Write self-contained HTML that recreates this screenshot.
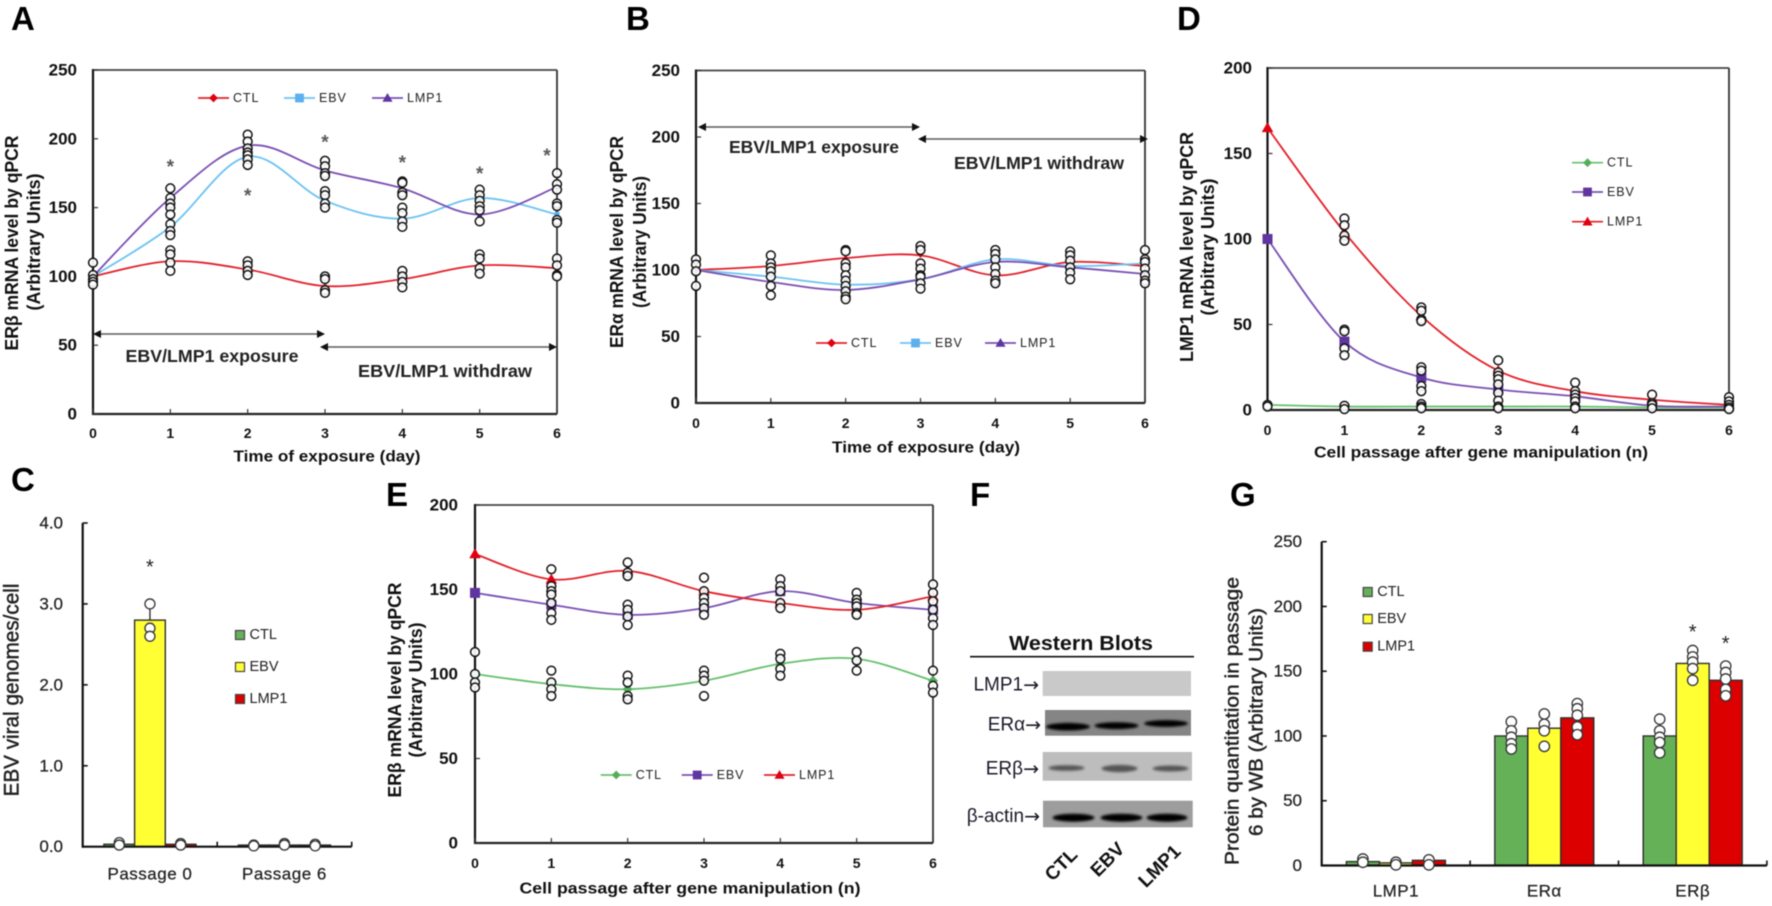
<!DOCTYPE html>
<html lang="en">
<head>
<meta charset="utf-8">
<title>ER mRNA and protein levels after EBV and LMP1 exposure</title>
<style>
html,body{margin:0;padding:0;background:#fff;}
body{width:1772px;height:906px;overflow:hidden;}
#figure{display:block;width:1772px;height:906px;filter:blur(0.5px);font-family:"Liberation Sans","DejaVu Sans",sans-serif;}
</style>
</head>
<body>
<svg id="figure" xmlns="http://www.w3.org/2000/svg" width="1772" height="906" viewBox="0 0 1772 906">
  <defs>
    <filter id="band-blur" x="-20%" y="-100%" width="140%" height="300%"><feGaussianBlur stdDeviation="1.4"/></filter>
  </defs>
  <rect width="1772" height="906" fill="#fff"/>

  <g font-size="33" font-weight="700" fill="#000">
    <text x="11" y="30">A</text>
    <text x="626" y="30">B</text>
    <text x="1177" y="30">D</text>
    <text x="11" y="491">C</text>
    <text x="386" y="506">E</text>
    <text x="970" y="506">F</text>
    <text x="1230" y="506">G</text>
  </g>

  <g>
    <text x="1081" y="650" text-anchor="middle" font-size="20" font-weight="700" textLength="144" lengthAdjust="spacingAndGlyphs" fill="#111">Western Blots</text>
    <line x1="970" y1="656.7" x2="1194" y2="656.7" stroke="#111" stroke-width="1.6"/>

    <rect x="1042.7" y="671" width="148.3" height="25" fill="#c9c9c9"/>

    <rect x="1045" y="710" width="146" height="25.7" fill="#858585"/>
    <g filter="url(#band-blur)" fill="#050505">
      <ellipse cx="1068" cy="726.7" rx="22" ry="3.8"/>
      <ellipse cx="1116.5" cy="725.7" rx="22" ry="3.4"/>
      <ellipse cx="1166" cy="723.5" rx="22" ry="3.4"/>
    </g>

    <rect x="1042.7" y="752" width="149.3" height="28.7" fill="#bdbdbd"/>
    <g filter="url(#band-blur)" fill="#555">
      <ellipse cx="1066.5" cy="768" rx="18" ry="2.8"/>
      <ellipse cx="1119.5" cy="768.5" rx="18" ry="3.6"/>
      <ellipse cx="1170.5" cy="768.5" rx="18" ry="3"/>
    </g>

    <rect x="1043" y="800.7" width="149.7" height="26.6" fill="#9d9d9d"/>
    <g filter="url(#band-blur)" fill="#050505">
      <ellipse cx="1073.5" cy="817.7" rx="21" ry="4"/>
      <ellipse cx="1121.5" cy="817.7" rx="21" ry="4"/>
      <ellipse cx="1167" cy="817.7" rx="20.5" ry="4"/>
    </g>

    <g font-size="19" fill="#1a1a2a" text-anchor="end" dominant-baseline="central">
      <text x="1039" y="685">LMP1<tspan font-family="'DejaVu Sans',sans-serif">→</tspan></text>
      <text x="1041" y="725">ERα<tspan font-family="'DejaVu Sans',sans-serif">→</tspan></text>
      <text x="1039" y="769">ERβ<tspan font-family="'DejaVu Sans',sans-serif">→</tspan></text>
      <text x="1040" y="816.7">β-actin<tspan font-family="'DejaVu Sans',sans-serif">→</tspan></text>
    </g>
    <g font-size="19" font-weight="700" fill="#111" text-anchor="middle" dominant-baseline="central">
      <text x="1061.7" y="865" transform="rotate(-45 1061.7 865)">CTL</text>
      <text x="1108" y="860" transform="rotate(-45 1108 860)">EBV</text>
      <text x="1160" y="866.7" transform="rotate(-45 1160 866.7)">LMP1</text>
    </g>
  </g>
</svg>

<script>
/* ---------- shared tick labels ---------- */
const dayTicks = [0, 1, 2, 3, 4, 5, 6];
const ticks250 = [0, 50, 100, 150, 200, 250];
const ticks200 = [0, 50, 100, 150, 200];
const ticksGenomes = [0, 1, 2, 3, 4];

/* ---------- panel A ---------- */
const aCtl  = [100, 111, 105, 93, 98, 108, 106];
const aEbv  = [100, 136, 187, 155, 142, 157, 145];
const aLmp1 = [100, 157, 195, 177, 164, 145, 165];
const aPoints = [
  [110, 101, 98, 96, 94],
  [164, 157, 153, 150, 145, 138, 133, 130, 119, 116, 110, 104],
  [203, 198, 193, 190, 188, 185, 181, 111, 108, 104, 101],
  [184, 180, 175, 173, 162, 159, 153, 150, 100, 98, 90, 88],
  [169, 168, 161, 159, 150, 146, 140, 136, 104, 100, 96, 92],
  [163, 159, 155, 151, 148, 140, 116, 113, 106, 102],
  [175, 167, 163, 153, 151, 141, 139, 113, 108, 101, 100]
];
const aStarDays = [1, 2, 3, 4, 5, 5.87];
const aStarValues = [182, 161, 200, 185, 177, 190];

/* ---------- panel B ---------- */
const bCtl  = [100, 103, 109, 111, 96, 106, 103];
const bEbv  = [100, 95, 89, 93, 108, 103, 105];
const bLmp1 = [100, 91, 85, 93, 106, 102, 97];
const bPoints = [
  [108, 104, 99, 88],
  [111, 105, 102, 99, 95, 88, 81],
  [115, 114, 105, 102, 96, 92, 88, 84, 80, 78],
  [118, 115, 105, 101, 96, 95, 90, 86],
  [115, 112, 108, 102, 97, 92, 90],
  [114, 111, 107, 102, 98, 93],
  [115, 108, 106, 101, 96, 92, 90]
];

/* ---------- panel D ---------- */
const dCtl  = [3, 2, 2, 2, 2, 1.5, 1.5];
const dEbv  = [100, 40, 19, 12, 8, 2.5, 2];
const dLmp1 = [165, 104, 55, 23, 11, 6, 3];
const dPoints = [
  [3, 2],
  [112, 108, 102, 99, 47, 46, 36, 32, 2.5, 0.5],
  [60, 58, 53, 52, 25, 23, 14, 11, 3.5, 2, 1],
  [29, 22, 20, 18, 15, 10, 5.5, 2, 1],
  [16, 11, 9, 7, 5, 2, 1],
  [9, 4, 3, 1],
  [7.5, 5, 3, 1.5, 0.5]
];

/* ---------- panel E ---------- */
const eCtl  = [100, 94, 91, 96, 106, 109, 96];
const eEbv  = [148, 141, 135, 139, 149, 142, 138];
const eLmp1 = [171, 156, 161, 149, 142, 138, 146];
const ePoints = [
  [113, 100, 95, 92],
  [162, 152, 149, 147, 142, 136, 132, 102, 95, 91, 87],
  [166, 160, 158, 141, 138, 134, 129, 99, 95, 87, 85],
  [157, 149, 145, 142, 139, 135, 102, 99, 96, 87],
  [156, 152, 149, 142, 139, 112, 109, 103, 99],
  [148, 144, 142, 140, 136, 135, 113, 108, 102],
  [153, 148, 143, 138, 133, 129, 102, 93, 89]
];

/* ---------- panel C ---------- */
const cCategories = ['Passage 0', 'Passage 6'];
const cCtl  = [0.03, 0.02];
const cEbv  = [2.8, 0.02];
const cLmp1 = [0.03, 0.02];
const cCtlPoints  = [[0.05, 0.02], [0.02, 0.01]];
const cEbvPoints  = [[3.0, 2.7, 2.6], [0.04, 0.02]];
const cLmp1Points = [[0.04, 0.02], [0.03, 0.01]];
const cStarValues = [[null, 3.5, null], [null, null, null]];

/* ---------- panel G ---------- */
const gCategories = ['LMP1', 'ERα', 'ERβ'];
const gCtl  = [3, 100, 100];
const gEbv  = [2, 106, 156];
const gLmp1 = [4, 114, 143];
const gCtlPoints  = [[5, 2.5], [111, 104, 99, 94, 90], [113, 104, 99, 95, 87]];
const gEbvPoints  = [[2.5, 0.5], [117, 109, 104, 92], [166, 161, 157, 152, 143]];
const gLmp1Points = [[4.4, 0.5], [125, 121, 116, 107, 101], [154, 149, 144, 136, 131]];
const gStarValues = [[null, null, null], [null, null, null], [null, 183, 174]];

/* ---------- palette ---------- */
const RED = '#e3202a', BLUE = '#6cc3f2', PURPLE = '#7a4fb3', GREEN = '#66c06c';
const MARK_BLUE = '#5cb0ee', MARK_PURPLE = '#5f35a0', MARK_GREEN = '#55ad5c', MARK_RED = '#e00010';
const BAR_GREEN = '#65b158', BAR_YELLOW = '#ffff33', BAR_RED = '#dc0000';

const root = document.getElementById('figure');
const SVGNS = 'http://www.w3.org/2000/svg';

function mk(tag, attrs, parent) {
  const node = document.createElementNS(SVGNS, tag);
  for (const key in attrs) node.setAttribute(key, attrs[key]);
  parent.appendChild(node);
  return node;
}

function txt(str, x, y, opt, parent) {
  const attrs = {
    x: x, y: y,
    'font-size': opt.size,
    'font-weight': opt.weight || 400,
    'text-anchor': opt.anchor || 'middle',
    'dominant-baseline': 'central',
    fill: opt.fill || '#111'
  };
  if (opt.len) { attrs.textLength = opt.len; attrs.lengthAdjust = 'spacingAndGlyphs'; }
  if (opt.rot) attrs.transform = 'rotate(' + opt.rot + ' ' + x + ' ' + y + ')';
  if (opt.ls) attrs['letter-spacing'] = opt.ls;
  if (opt.thick) { attrs.stroke = opt.fill || '#111'; attrs['stroke-width'] = opt.thick; }
  const node = mk('text', attrs, parent);
  node.textContent = str;
  return node;
}

function smoothPath(pts) {
  let d = 'M' + pts[0][0] + ' ' + pts[0][1];
  for (let i = 0; i < pts.length - 1; i++) {
    const p0 = pts[Math.max(0, i - 1)], p1 = pts[i], p2 = pts[i + 1], p3 = pts[Math.min(pts.length - 1, i + 2)];
    const c1x = p1[0] + (p2[0] - p0[0]) / 6, c1y = p1[1] + (p2[1] - p0[1]) / 6;
    const c2x = p2[0] - (p3[0] - p1[0]) / 6, c2y = p2[1] - (p3[1] - p1[1]) / 6;
    d += ' C' + c1x + ' ' + c1y + ' ' + c2x + ' ' + c2y + ' ' + p2[0] + ' ' + p2[1];
  }
  return d;
}

function drawMarker(shape, cx, cy, size, color, parent) {
  let node;
  if (shape === 'diamond') {
    node = mk('polygon', { points: [cx, cy - size, cx + size, cy, cx, cy + size, cx - size, cy].join(' '), fill: color }, parent);
  } else if (shape === 'square') {
    node = mk('rect', { x: cx - size, y: cy - size, width: size * 2, height: size * 2, fill: color }, parent);
  } else {
    node = mk('polygon', { points: [cx, cy - size * 1.15, cx + size * 1.15, cy + size * 0.85, cx - size * 1.15, cy + size * 0.85].join(' '), fill: color }, parent);
  }
  
  
  return node;
}

function drawArrow(x1, x2, y, parent) {
  const group = mk('g', {}, parent);
  
  
  mk('line', { x1: x1 + 4, y1: y, x2: x2 - 4, y2: y, stroke: '#5a5a5a', 'stroke-width': 1.6 }, group);
  mk('polygon', { points: [x2, y, x2 - 8, y - 4, x2 - 8, y + 4].join(' '), fill: '#111' }, group);
  mk('polygon', { points: [x1, y, x1 + 8, y - 4, x1 + 8, y + 4].join(' '), fill: '#111' }, group);
}

function drawLegendEntry(e, parent) {
  const group = mk('g', {}, parent);
  
  
  mk('line', { x1: e.x, y1: e.y, x2: e.x + 31, y2: e.y, stroke: e.color, 'stroke-width': 1.7 }, group);
  drawMarker(e.shape, e.x + 15.5, e.y, 4.4, e.mark, group);
  const label = txt(e.label, e.x + 35, e.y, { size: 12.5, anchor: 'start', ls: '0.9px', fill: '#222' }, group);
  
  
}

/* ---------- line chart ---------- */
function lineChart(cfg) {
  const panel = mk('g', {}, root);
  
  

  const yMax = cfg.yTicks[cfg.yTicks.length - 1];
  const scaleX = function (i) { return cfg.x0 + i / (cfg.xTicks.length - 1) * (cfg.x1 - cfg.x0); };
  const scaleY = function (v) { return cfg.bottom - v / yMax * (cfg.bottom - cfg.top); };

  const frameTop = mk('line', { x1: cfg.x0, y1: cfg.top, x2: cfg.x1, y2: cfg.top, stroke: '#444', 'stroke-width': 1.8 }, panel);
  
  
  const frameRight = mk('line', { x1: cfg.x1, y1: cfg.top, x2: cfg.x1, y2: cfg.bottom, stroke: '#333', 'stroke-width': 1.8 }, panel);
  
  
  const axisY = mk('line', { x1: cfg.x0, y1: cfg.top - 1, x2: cfg.x0, y2: cfg.bottom + 1, stroke: '#111', 'stroke-width': 2.2 }, panel);
  
  
  const axisX = mk('line', { x1: cfg.x0, y1: cfg.bottom, x2: cfg.x1, y2: cfg.bottom, stroke: '#222', 'stroke-width': 2.2 }, panel);
  
  

  cfg.yTicks.forEach(function (v) {
    const tick = mk('line', { x1: cfg.x0, y1: scaleY(v), x2: cfg.x0 + 5, y2: scaleY(v), stroke: '#333', 'stroke-width': 1.2 }, panel);
    
    
    const label = txt(String(v), cfg.yLabelX, scaleY(v), { size: 17, weight: 700, anchor: 'end' }, panel);
    
    
  });

  cfg.xTicks.forEach(function (v, i) {
    const tick = mk('line', { x1: scaleX(i), y1: cfg.bottom, x2: scaleX(i), y2: cfg.bottom - 5, stroke: '#333', 'stroke-width': 1.2 }, panel);
    
    
    const label = txt(String(v), scaleX(i), cfg.xLabelY, { size: 14, weight: 700 }, panel);
    
    
  });

  cfg.series.forEach(function (s) {
    const coords = s.values.map(function (v, i) { return [scaleX(i), scaleY(v)]; });
    const path = mk('path', { d: smoothPath(coords), fill: 'none', stroke: s.color, 'stroke-width': 1.8 }, panel);
    
    
    coords.forEach(function (c) { drawMarker(s.shape, c[0], c[1], cfg.markerSize, s.mark, panel); });
  });

  cfg.points.forEach(function (list, i) {
    list.forEach(function (v) {
      const dot = mk('circle', { cx: scaleX(i), cy: scaleY(v), r: 4.4, fill: '#fff', 'fill-opacity': 0.9, stroke: '#111', 'stroke-width': 1.5 }, panel);
      
      
    });
  });

  (cfg.starDays || []).forEach(function (d, i) {
    const star = txt('*', scaleX(d), scaleY(cfg.starValues[i]) + 4, { size: 19, weight: 700, fill: '#5a5a5a' }, panel);
    
    
  });

  cfg.yTitles.forEach(function (t) {
    const title = txt(t.text, t.x, t.y, { size: 18, weight: 700, rot: -90, len: t.len }, panel);
    
    
  });
  const xTitle = txt(cfg.xTitle.text, cfg.xTitle.x, cfg.xTitle.y, { size: 16, weight: 700, len: cfg.xTitle.len }, panel);
  
  

  (cfg.arrows || []).forEach(function (a) { drawArrow(a.x1, a.x2, a.y, panel); });
  (cfg.notes || []).forEach(function (n) {
    const note = txt(n.text, n.x, n.y, { size: 17.5, weight: 700, len: n.len, fill: '#222' }, panel);
    
    
  });
  cfg.legend.forEach(function (e) { drawLegendEntry(e, panel); });
}

/* ---------- bar chart ---------- */
function barChart(cfg) {
  const panel = mk('g', {}, root);
  
  

  const yMax = cfg.yTicks[cfg.yTicks.length - 1];
  const scaleY = function (v) { return cfg.bottom - v / yMax * (cfg.bottom - cfg.top); };
  const center = function (g) { return cfg.x0 + cfg.groupW * (g + 0.5); };
  const barX = function (g, s) { return center(g) + (s - 1.5) * cfg.barW; };
  const right = cfg.x0 + cfg.groupW * cfg.categories.length;

  cfg.series.forEach(function (s, si) {
    s.values.forEach(function (v, g) {
      const bar = mk('rect', { x: barX(g, si), y: scaleY(v), width: cfg.barW, height: cfg.bottom - scaleY(v), fill: s.color, stroke: '#303030', 'stroke-width': 1.4 }, panel);
      
      
    });
  });

  const axisY = mk('line', { x1: cfg.x0, y1: cfg.top, x2: cfg.x0, y2: cfg.bottom + 1, stroke: '#111', 'stroke-width': 2.2 }, panel);
  
  
  const axisX = mk('line', { x1: cfg.x0, y1: cfg.bottom, x2: right, y2: cfg.bottom, stroke: '#111', 'stroke-width': 2.2 }, panel);
  
  

  cfg.yTicks.forEach(function (v) {
    const tick = mk('line', { x1: cfg.x0, y1: scaleY(v), x2: cfg.x0 + 5, y2: scaleY(v), stroke: '#111', 'stroke-width': 1.6 }, panel);
    
    
    const label = txt(cfg.yFormat(v), cfg.yLabelX, scaleY(v), { size: cfg.tickSize, anchor: 'end', fill: '#222', thick: 0.25 }, panel);
    
    
  });

  cfg.categories.forEach(function (c, g) {
    const tick = mk('line', { x1: cfg.x0 + cfg.groupW * (g + 1), y1: cfg.bottom, x2: cfg.x0 + cfg.groupW * (g + 1), y2: cfg.bottom - 5, stroke: '#111', 'stroke-width': 1.6 }, panel);
    
    
    const label = txt(c, center(g), cfg.catLabelY, { size: cfg.catSize, fill: '#222', ls: cfg.catSpacing, thick: 0.25 }, panel);
    
    
  });

  cfg.series.forEach(function (s, si) {
    s.points.forEach(function (list, g) {
      const cx = barX(g, si) + cfg.barW / 2;
      if (cfg.whisker && s.values[g] > 1) {
        const whisker = mk('line', { x1: cx, y1: scaleY(s.values[g]), x2: cx, y2: scaleY(Math.max.apply(null, list)), stroke: '#222', 'stroke-width': 1.3 }, panel);
        
        
      }
      list.forEach(function (v) {
        const dot = mk('circle', { cx: cx, cy: scaleY(v), r: cfg.dotR, fill: '#fff', stroke: '#333', 'stroke-width': 1.3 }, panel);
        
        
      });
    });
  });

  cfg.stars.forEach(function (row, g) {
    row.forEach(function (v, si) {
      if (v === null) return;
      const star = txt('*', barX(g, si) + cfg.barW / 2, scaleY(v) + 4, { size: 20, fill: '#222' }, panel);
      
      
    });
  });

  cfg.yTitles.forEach(function (t) {
    const title = txt(t.text, t.x, t.y, { size: cfg.titleSize, rot: -90, len: t.len, fill: '#222', weight: 400, thick: 0.45 }, panel);
    
    
  });

  cfg.legend.forEach(function (e) {
    const group = mk('g', {}, panel);
    
    
    mk('rect', { x: e.x - 4.5, y: e.y - 4.5, width: 9, height: 9, fill: e.color, stroke: '#444', 'stroke-width': 1.2 }, group);
    const label = txt(e.label, e.x + 9.5, e.y, { size: 14.5, anchor: 'start', fill: '#222' }, group);
    
    
  });
}

/* ---------- panels ---------- */
lineChart({
  name: 'panel-a-er-beta-exposure', x0: 93, x1: 557, top: 70, bottom: 414,
  yTicks: ticks250, xTicks: dayTicks, yLabelX: 77, xLabelY: 433, markerSize: 2.5,
  series: [
    { id: 'series-ctl', values: aCtl, color: RED, mark: MARK_RED, shape: 'diamond' },
    { id: 'series-ebv', values: aEbv, color: BLUE, mark: MARK_BLUE, shape: 'square' },
    { id: 'series-lmp1', values: aLmp1, color: PURPLE, mark: MARK_PURPLE, shape: 'triangle' }
  ],
  points: aPoints, starDays: aStarDays, starValues: aStarValues,
  yTitles: [
    { text: 'ERβ mRNA level by qPCR', x: 12, y: 243, len: 215 },
    { text: '(Arbitrary Units)', x: 34, y: 242, len: 137 }
  ],
  xTitle: { text: 'Time of exposure (day)', x: 327, y: 457, len: 187 },
  arrows: [{ x1: 93, x2: 325, y: 334 }, { x1: 320, x2: 557, y: 347 }],
  notes: [
    { text: 'EBV/LMP1 exposure', x: 212, y: 356, len: 173 },
    { text: 'EBV/LMP1 withdraw', x: 445, y: 371, len: 174 }
  ],
  legend: [
    { x: 198, y: 98, color: RED, mark: MARK_RED, shape: 'diamond', label: 'CTL' },
    { x: 284, y: 98, color: BLUE, mark: MARK_BLUE, shape: 'square', label: 'EBV' },
    { x: 372, y: 98, color: PURPLE, mark: MARK_PURPLE, shape: 'triangle', label: 'LMP1' }
  ]
});

lineChart({
  name: 'panel-b-er-alpha-exposure', x0: 696, x1: 1145, top: 70.5, bottom: 403,
  yTicks: ticks250, xTicks: dayTicks, yLabelX: 680, xLabelY: 423, markerSize: 2.5,
  series: [
    { id: 'series-ctl', values: bCtl, color: RED, mark: MARK_RED, shape: 'diamond' },
    { id: 'series-ebv', values: bEbv, color: BLUE, mark: MARK_BLUE, shape: 'square' },
    { id: 'series-lmp1', values: bLmp1, color: PURPLE, mark: MARK_PURPLE, shape: 'triangle' }
  ],
  points: bPoints,
  yTitles: [
    { text: 'ERα mRNA level by qPCR', x: 617, y: 242, len: 212 },
    { text: '(Arbitrary Units)', x: 640, y: 242, len: 132 }
  ],
  xTitle: { text: 'Time of exposure (day)', x: 926, y: 448, len: 188 },
  arrows: [{ x1: 698, x2: 920, y: 127 }, { x1: 918, x2: 1148, y: 139 }],
  notes: [
    { text: 'EBV/LMP1 exposure', x: 814, y: 147, len: 170 },
    { text: 'EBV/LMP1 withdraw', x: 1039, y: 163, len: 170 }
  ],
  legend: [
    { x: 816, y: 343, color: RED, mark: MARK_RED, shape: 'diamond', label: 'CTL' },
    { x: 900, y: 343, color: BLUE, mark: MARK_BLUE, shape: 'square', label: 'EBV' },
    { x: 985, y: 343, color: PURPLE, mark: MARK_PURPLE, shape: 'triangle', label: 'LMP1' }
  ]
});

lineChart({
  name: 'panel-d-lmp1-passage', x0: 1267.5, x1: 1729, top: 68, bottom: 410,
  yTicks: ticks200, xTicks: dayTicks, yLabelX: 1252, xLabelY: 430, markerSize: 5,
  series: [
    { id: 'series-ctl', values: dCtl, color: GREEN, mark: MARK_GREEN, shape: 'diamond' },
    { id: 'series-ebv', values: dEbv, color: PURPLE, mark: MARK_PURPLE, shape: 'square' },
    { id: 'series-lmp1', values: dLmp1, color: RED, mark: MARK_RED, shape: 'triangle' }
  ],
  points: dPoints,
  yTitles: [
    { text: 'LMP1 mRNA level by qPCR', x: 1187, y: 247, len: 230 },
    { text: '(Arbitrary Units)', x: 1208, y: 247, len: 137 }
  ],
  xTitle: { text: 'Cell passage after gene manipulation (n)', x: 1481, y: 453, len: 334 },
  legend: [
    { x: 1572, y: 162.7, color: GREEN, mark: MARK_GREEN, shape: 'diamond', label: 'CTL' },
    { x: 1572, y: 192, color: PURPLE, mark: MARK_PURPLE, shape: 'square', label: 'EBV' },
    { x: 1572, y: 221.7, color: RED, mark: MARK_RED, shape: 'triangle', label: 'LMP1' }
  ]
});

lineChart({
  name: 'panel-e-er-beta-passage', x0: 475, x1: 933, top: 505, bottom: 843,
  yTicks: ticks200, xTicks: dayTicks, yLabelX: 458, xLabelY: 863, markerSize: 5,
  series: [
    { id: 'series-ctl', values: eCtl, color: GREEN, mark: MARK_GREEN, shape: 'diamond' },
    { id: 'series-ebv', values: eEbv, color: PURPLE, mark: MARK_PURPLE, shape: 'square' },
    { id: 'series-lmp1', values: eLmp1, color: RED, mark: MARK_RED, shape: 'triangle' }
  ],
  points: ePoints,
  yTitles: [
    { text: 'ERβ mRNA level by qPCR', x: 395, y: 690, len: 215 },
    { text: '(Arbitrary Units)', x: 416, y: 690, len: 135 }
  ],
  xTitle: { text: 'Cell passage after gene manipulation (n)', x: 690, y: 889, len: 341 },
  legend: [
    { x: 600.7, y: 775, color: GREEN, mark: MARK_GREEN, shape: 'diamond', label: 'CTL' },
    { x: 681.7, y: 775, color: PURPLE, mark: MARK_PURPLE, shape: 'square', label: 'EBV' },
    { x: 764, y: 775, color: RED, mark: MARK_RED, shape: 'triangle', label: 'LMP1' }
  ]
});

barChart({
  name: 'panel-c-ebv-genomes', x0: 82.7, top: 523, bottom: 846.7, groupW: 134.5, barW: 30.7,
  categories: cCategories, yTicks: ticksGenomes,
  yFormat: function (v) { return v.toFixed(1); },
  yLabelX: 63, tickSize: 17, catSize: 17, catLabelY: 874, catSpacing: '0.5px', dotR: 5, whisker: true, titleSize: 21,
  series: [
    { id: 'bar-ctl', values: cCtl, color: BAR_GREEN, points: cCtlPoints },
    { id: 'bar-ebv', values: cEbv, color: BAR_YELLOW, points: cEbvPoints },
    { id: 'bar-lmp1', values: cLmp1, color: BAR_RED, points: cLmp1Points }
  ],
  stars: cStarValues,
  yTitles: [{ text: 'EBV viral genomes/cell', x: 12, y: 690, len: 213 }],
  legend: [
    { x: 240, y: 635, color: BAR_GREEN, label: 'CTL' },
    { x: 240, y: 667, color: BAR_YELLOW, label: 'EBV' },
    { x: 240, y: 699, color: BAR_RED, label: 'LMP1' }
  ]
});

barChart({
  name: 'panel-g-protein-quantitation', x0: 1321.7, top: 541.7, bottom: 865.5, groupW: 148.4, barW: 33,
  categories: gCategories, yTicks: ticks250,
  yFormat: function (v) { return String(v); },
  yLabelX: 1302, tickSize: 17, catSize: 17, catLabelY: 891, catSpacing: '0.5px', dotR: 5.2, whisker: false, titleSize: 19,
  series: [
    { id: 'bar-ctl', values: gCtl, color: BAR_GREEN, points: gCtlPoints },
    { id: 'bar-ebv', values: gEbv, color: BAR_YELLOW, points: gEbvPoints },
    { id: 'bar-lmp1', values: gLmp1, color: BAR_RED, points: gLmp1Points }
  ],
  stars: gStarValues,
  yTitles: [
    { text: 'Protein quantitation in passage', x: 1233, y: 721, len: 288 },
    { text: '6 by WB (Arbitrary Units)', x: 1257, y: 722, len: 228 }
  ],
  legend: [
    { x: 1367.7, y: 592, color: BAR_GREEN, label: 'CTL' },
    { x: 1367.7, y: 619, color: BAR_YELLOW, label: 'EBV' },
    { x: 1367.7, y: 646.7, color: BAR_RED, label: 'LMP1' }
  ]
});
</script>
</body>
</html>
